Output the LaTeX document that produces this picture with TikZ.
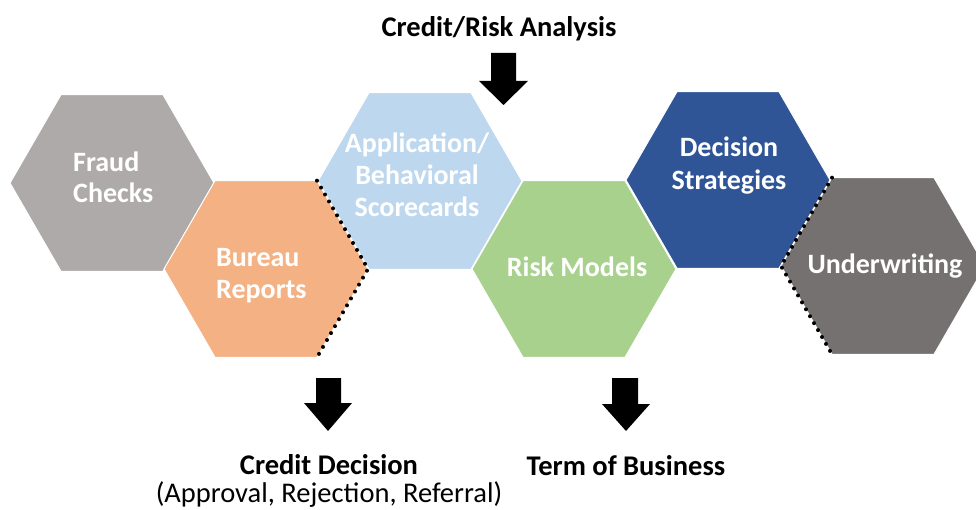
\documentclass[tikz,border=0pt]{standalone}
\usepackage{fontspec}
\setmainfont{Carlito}
\usetikzlibrary{shapes.geometric}
\definecolor{fraudgray}{HTML}{AEAAAA}
\definecolor{bureauorange}{HTML}{F4B183}
\definecolor{applblue}{HTML}{BDD7EE}
\definecolor{riskgreen}{HTML}{A9D18E}
\definecolor{decblue}{HTML}{2F5597}
\definecolor{undgray}{HTML}{767171}
\begin{document}
\begin{tikzpicture}[x=1pt,y=1pt,
  hex/.style={regular polygon, regular polygon sides=6, minimum size=204pt,
    inner sep=0pt, outer sep=0pt, draw=white, line width=1pt},
  hexlabel/.style={text=white, font=\bfseries\fontsize{28}{32}\selectfont, inner sep=0pt},
  caption/.style={text=black, font=\bfseries\fontsize{28.5}{32}\selectfont, inner sep=0pt},
  subcaption/.style={text=black, font=\fontsize{28.5}{32}\selectfont, inner sep=0pt},
  blockarrow/.style={fill=black},
  dotline/.style={line width=4pt, dash pattern=on 0pt off 8pt, line cap=round}]
\clip (0,0) rectangle (976,509);
\fill[white] (0,0) rectangle (976,509);

% hexagons
\node[hex, fill=fraudgray]    (fraud) at (112,326) {};
\node[hex, fill=bureauorange] (bur)   at (266,240) {};
\node[hex, fill=applblue]     (appl)  at (420,328) {};
\node[hex, fill=riskgreen]    (risk)  at (574,240) {};
\node[hex, fill=decblue]      (dec)   at (728,329) {};
\node[hex, fill=undgray]      (und)   at (883,243) {};

% dotted edges
\draw[dotline] (bur.60) -- (bur.0) -- (bur.-60);
\draw[dotline] (und.120) -- (und.180) -- (und.240);

% hexagon labels
\node[hexlabel, anchor=base west] (fraudA) at (73,337) {Fraud};
\node[hexlabel, anchor=base west] (fraudB) at (73,306) {Checks};
\node[hexlabel, anchor=base west] (burA) at (216,242) {Bureau};
\node[hexlabel, anchor=base west] (burB) at (216,211) {Reports};
\node[hexlabel, anchor=base] (applA) at (417,356) {Application/};
\node[hexlabel, anchor=base] (applB) at (417,324) {Behavioral};
\node[hexlabel, anchor=base] (applC) at (417,292) {Scorecards};
\node[hexlabel, anchor=base] (riskA) at (577,232) {Risk Models};
\node[hexlabel, anchor=base] (decA) at (729,352) {Decision};
\node[hexlabel, anchor=base] (decB) at (729,319) {Strategies};
\node[hexlabel, anchor=base] (undA) at (885,235) {Underwriting};

% captions
\node[caption, anchor=base] (top) at (499,472) {Credit/Risk Analysis};
\node[caption, anchor=base] (cdec) at (329,35) {Credit Decision};
\node[subcaption, anchor=base] (cdecsub) at (329,7) {(Approval, Rejection, Referral)};
\node[caption, anchor=base] (tob) at (626,34) {Term of Business};

% block arrows
\fill[blockarrow] (491,456) -- (516,456) -- (516,428) -- (528,428) -- (503.5,404)
  -- (479,428) -- (491,428) -- cycle;
\fill[blockarrow] (316,131) -- (341,131) -- (341,106) -- (352,106) -- (328,78)
  -- (304,106) -- (316,106) -- cycle;
\fill[blockarrow] (612,131) -- (638,131) -- (638,105) -- (650,105) -- (626,78)
  -- (602,105) -- (612,105) -- cycle;
\end{tikzpicture}
\end{document}
